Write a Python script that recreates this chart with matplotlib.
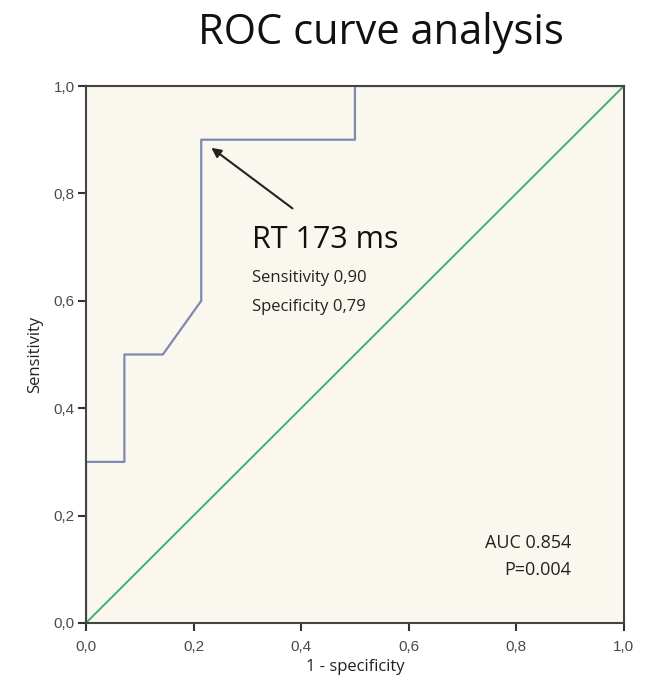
import matplotlib
matplotlib.use('Agg')
import matplotlib.pyplot as plt

# ROC curve points (1 - specificity, sensitivity)
fpr = [0.0, 0.0, 1/14, 1/14, 2/14, 3/14, 3/14, 7/14, 7/14, 1.0]
tpr = [0.0, 0.3, 0.3, 0.5, 0.5, 0.6, 0.9, 0.9, 1.0, 1.0]
ref_line = [0.0, 1.0]
ticks = [0.0, 0.2, 0.4, 0.6, 0.8, 1.0]
tick_labels = ['0,0', '0,2', '0,4', '0,6', '0,8', '1,0']

fig = plt.figure(figsize=(6.45, 6.97), dpi=100)
ax = fig.add_axes([0.1333, 0.1062, 0.834, 0.7704])
ax.set_facecolor('#faf7ef')

ax.plot(ref_line, ref_line, color='#3aaa6a', lw=1.3)
ax.plot(fpr, tpr, color='#7f88b2', lw=1.6)

ax.set_xlim(0, 1)
ax.set_ylim(0, 1)
ax.set_xticks(ticks)
ax.set_xticklabels(tick_labels)
ax.set_yticks(ticks)
ax.set_yticklabels(tick_labels)
ax.tick_params(direction='out', length=6, width=1.5, color='#333333',
               labelsize=11, labelcolor='#4a4a4a')
ax.tick_params(axis='x', pad=6)
ax.tick_params(axis='y', pad=2)
for lab in ax.get_xticklabels() + ax.get_yticklabels():
    lab.set_family('Liberation Sans')
for s in ax.spines.values():
    s.set_color('#444444')
    s.set_linewidth(1.5)

ax.set_xlabel('1 - specificity', fontsize=12, family='Open Sans', labelpad=4, color='#222222')
ax.set_ylabel('Sensitivity', fontsize=12, family='Open Sans', labelpad=8, color='#222222')

fig.text(0.59, 0.952, 'ROC curve analysis', fontsize=30, family='Open Sans',
         ha='center', va='center', color='#111111')

ax.annotate('', xy=(0.229, 0.888), xytext=(0.388, 0.769),
            arrowprops=dict(arrowstyle='-|>', color='#222222', lw=1.5, mutation_scale=14))
ax.text(0.308, 0.714, 'RT 173 ms', fontsize=22, family='Open Sans', va='center', color='#111111')
ax.text(0.308, 0.643, 'Sensitivity 0,90', fontsize=12, family='Open Sans', va='center', color='#222222')
ax.text(0.308, 0.589, 'Specificity 0,79', fontsize=12, family='Open Sans', va='center', color='#222222')

ax.text(0.903, 0.149, 'AUC 0.854', fontsize=13, family='Open Sans', ha='right', va='center', color='#222222')
ax.text(0.903, 0.099, 'P=0.004', fontsize=13, family='Open Sans', ha='right', va='center', color='#222222')

fig.savefig('out.png', dpi=100, facecolor='white')
